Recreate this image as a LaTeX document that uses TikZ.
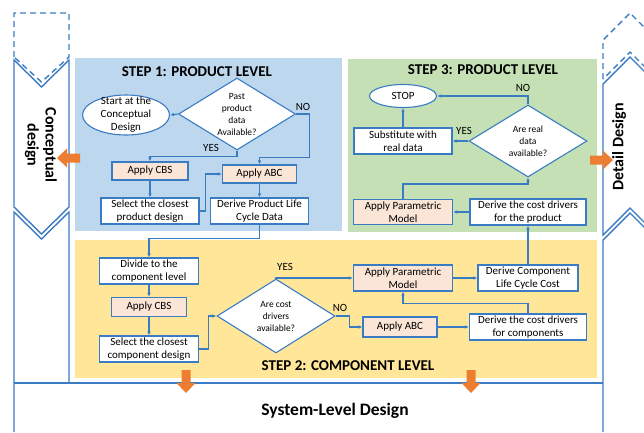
\documentclass[tikz,border=0pt]{standalone}
\usepackage{fontspec}
\setmainfont{Carlito}
\usetikzlibrary{shapes.geometric,arrows.meta,calc}

\definecolor{lineblue}{HTML}{3A7CC3}
\definecolor{panelblue}{HTML}{BDD7EE}
\definecolor{panelgreen}{HTML}{C5E0B4}
\definecolor{panelyellow}{HTML}{FFE699}
\definecolor{boxorange}{HTML}{FBE5D6}
\definecolor{arroworange}{HTML}{ED7D31}

\begin{document}
\begin{tikzpicture}[x=1pt,y=-1pt]
    \tikzset{
        box/.style={draw=lineblue, line width=1.1pt, fill=white, align=center,
            inner sep=0pt, minimum height=26pt, font=\fontsize{11}{13}\selectfont},
        cbox/.style={box, fill=boxorange},
        decision/.style={diamond, draw=lineblue, line width=1.1pt, fill=white,
            align=center, inner sep=0pt, aspect=1.6, minimum width=117pt,
            minimum height=72pt, font=\fontsize{9.5}{12}\selectfont},
        terminal/.style={ellipse, draw=lineblue, line width=1.1pt, fill=white,
            align=center, inner sep=0pt, font=\fontsize{11}{13}\selectfont},
        flow/.style={draw=lineblue, line width=1.1pt, -{Latex[length=4pt,width=3.5pt]}},
        yesno/.style={inner sep=0pt, font=\fontsize{11}{13}\selectfont},
        steptitle/.style={inner sep=0pt, font=\fontsize{15}{17}\selectfont\bfseries},
        phase/.style={inner sep=0pt, align=center, font=\fontsize{16}{18}\selectfont\bfseries},
        column/.style={draw=lineblue, line width=1.4pt},
        later/.style={column, dash pattern=on 6pt off 4pt},
        pics/fatarrow/.style={code={
            \fill[arroworange] (0,-4.5) -- (13,-4.5) -- (13,-9.5) -- (23,0)
                -- (13,9.5) -- (13,4.5) -- (0,4.5) -- cycle;
        }}
    }
    \useasboundingbox (0,0) rectangle (644,432);
    \clip (0,0) rectangle (644,432);

    \fill[panelblue] (75,58) rectangle (342,231);
    \fill[panelgreen] (348,59) rectangle (597,232);
    \fill[panelyellow] (75,240) rectangle (597,378);

    \draw[later] (14,57) -- (14,13) -- (69,13) -- (69,57) -- (41.5,82) -- cycle;
    \draw[column] (14,60) -- (41.5,87) -- (69,60) -- (69,207) -- (41.5,234) -- (14,207) -- cycle;
    \draw[column] (14,432) -- (14,212) -- (41.5,239) -- (69,212) -- (69,383);
    \draw[later] (603,79) -- (603,40) -- (630,13) -- (657,40) -- (657,79) -- (630,52) -- cycle;
    \draw[column] (603,84) -- (630,57) -- (657,84) -- (657,235) -- (630,208) -- (603,235) -- cycle;
    \draw[column] (603,432) -- (603,240) -- (630,213) -- (657,240) -- (657,432);
    \draw[column] (14,383) -- (603,383);

    \node[phase, rotate=-90] (concept) at (41,145) {Conceptual\\design};
    \node[phase, rotate=90] (detail) at (619,147) {Detail Design};
    \node[phase, font=\fontsize{17.5}{20}\selectfont\bfseries] (system) at (335,411) {System-Level Design};

    \pic[rotate=180] at (80,158) {fatarrow};
    \pic at (590,160) {fatarrow};
    \pic[rotate=-90] at (186,370) {fatarrow};
    \pic[rotate=-90] at (471,370) {fatarrow};

    \node[steptitle] (title1) at (197,72) {STEP 1: PRODUCT LEVEL};
    \node[steptitle] (title3) at (483,70) {STEP 3: PRODUCT LEVEL};
    \node[steptitle] (title2) at (348,366) {STEP 2: COMPONENT LEVEL};

    \node[terminal, minimum width=87pt, minimum height=40pt, inner sep=-6pt] (start) at (126,115) {Start at the\\Conceptual\\Design};
    \node[decision] (pastdata) at (237,114) {Past\\product\\data\\Available?};
    \node[cbox, minimum width=76pt, minimum height=18pt] (cbs1) at (150,171) {Apply CBS};
    \node[cbox, minimum width=74pt, minimum height=18pt] (abc1) at (259.5,174) {Apply ABC};
    \node[box, minimum width=98pt] (closest1) at (150,211) {Select the closest\\product design};
    \node[box, minimum width=98pt] (lcdata) at (259.5,211) {Derive Product Life\\Cycle Data};

    \node[box, minimum width=99pt] (divide) at (149,271) {Divide to the\\component level};
    \node[cbox, minimum width=75pt, minimum height=19pt] (cbs2) at (149,307) {Apply CBS};
    \node[box, minimum width=99pt] (closest2) at (149,349) {Select the closest\\component design};
    \node[decision, minimum width=118pt, minimum height=74pt] (costdrv) at (276,316) {Are cost\\drivers\\available?};
    \node[cbox, minimum width=99pt] (param2) at (403,278) {Apply Parametric\\Model};
    \node[cbox, minimum width=74pt, minimum height=20pt] (abc2) at (400,327) {Apply ABC};
    \node[box, minimum width=100pt] (complcc) at (528,278) {Derive Component\\Life Cycle Cost};
    \node[box, minimum width=117pt] (compdrv) at (528,327) {Derive the cost drivers\\for components};

    \node[box, minimum width=116pt] (proddrv) at (528,212) {Derive the cost drivers\\for the product};
    \node[cbox, minimum width=99pt, minimum height=25pt] (param3) at (403,212) {Apply Parametric\\Model};
    \node[decision, minimum width=118pt] (realdata) at (528,141) {Are real\\data\\available?};
    \node[box, minimum width=98pt] (subst) at (403,141) {Substitute with\\real data};
    \node[terminal, minimum width=67pt, minimum height=23pt] (stop) at (403,96) {STOP};

    \draw[flow] (pastdata.west) -- (start.east);
    \draw[flow] (pastdata.south) -- ++(0,6) -| (cbs1.north);
    \draw[flow] (pastdata.east) -- ++(13,0) |- ($(abc1.north)+(0,-7)$) -- (abc1.north);
    \draw[flow] (cbs1) -- (closest1);
    \draw[flow] (abc1) -- (lcdata);
    \draw[flow] (closest1.east) -- ++(6,0) |- (abc1.west);
    \draw[flow] (lcdata.south) -- ++(0,14) -| (divide.north);
    \draw[flow] (divide) -- (cbs2);
    \draw[flow] (cbs2) -- (closest2);
    \draw[flow] (closest2.east) -- ++(9,0) |- (costdrv.west);
    \draw[flow] (costdrv.north) |- (param2.west);
    \draw[flow] (costdrv.east) -- ++(14,0) |- (abc2.west);
    \draw[flow] (abc2) -- (compdrv);
    \draw[flow] (param2) -- (complcc);
    \draw[flow] (compdrv.north) -- ++(0,-10) -| (param2.south);
    \draw[flow] (complcc) -- (proddrv);
    \draw[flow] (proddrv) -- (param3);
    \draw[flow] (param3.north) -- ++(0,-15) -| (realdata.south);
    \draw[flow] (realdata) -- (subst);
    \draw[flow] (subst) -- (stop);
    \draw[flow] (realdata.north) |- (stop.east);

    \node[yesno] (yes1) at (211,148) {YES};
    \node[yesno] (no1) at (303,107) {NO};
    \node[yesno] (yes2) at (285,267) {YES};
    \node[yesno] (no2) at (340,308) {NO};
    \node[yesno] (yes3) at (464,131) {YES};
    \node[yesno] (no3) at (523,88) {NO};
\end{tikzpicture}
\end{document}
